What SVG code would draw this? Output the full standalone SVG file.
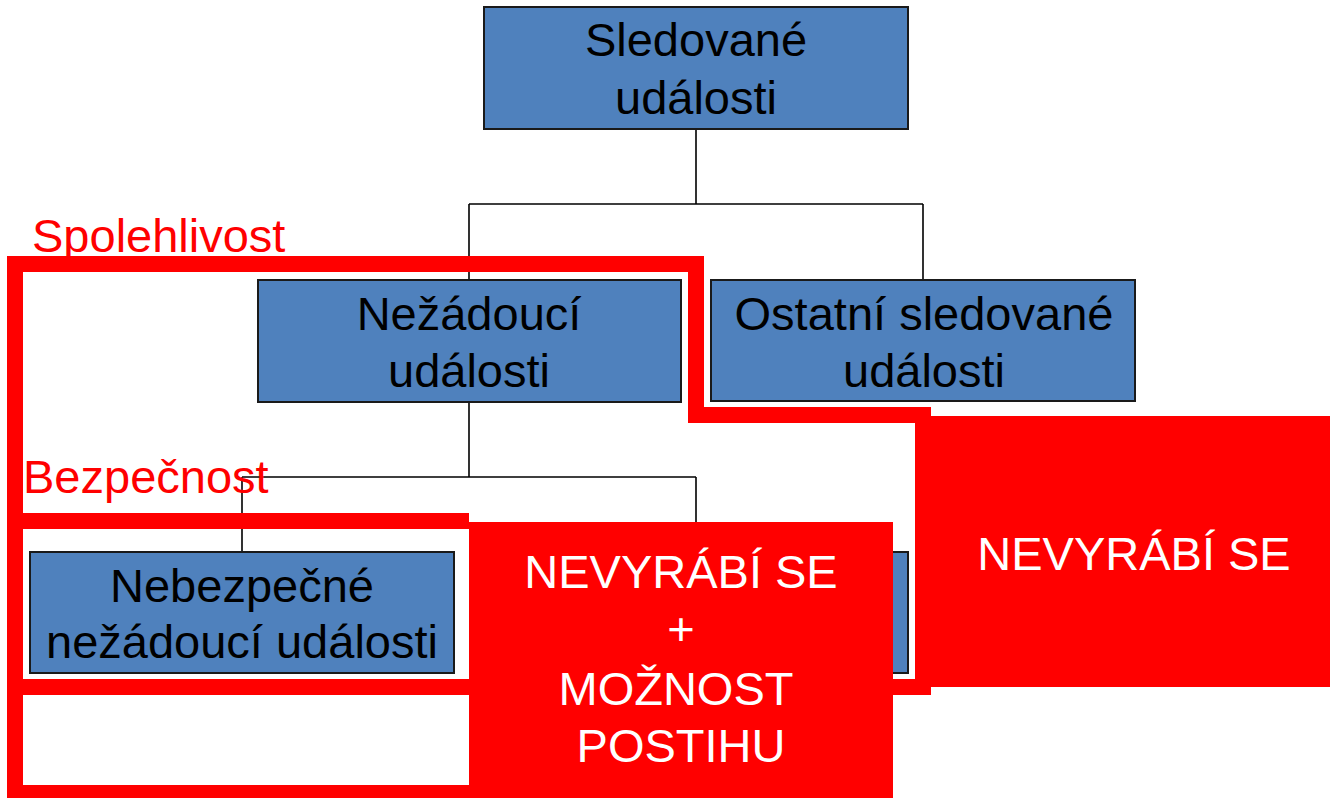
<svg xmlns="http://www.w3.org/2000/svg" width="1330" height="798" viewBox="0 0 1330 798">
  <style>
    .node { fill: #4f81bd; stroke: #1a1a1a; stroke-width: 2; }
    .label { font-family: "Liberation Sans", Arial, sans-serif; font-size: 47px; fill: #000; text-anchor: middle; }
    .wire { stroke: #000; stroke-width: 1.6; fill: none; }
    .frame { stroke: #ff0000; stroke-width: 16; fill: none; stroke-linejoin: miter; }
    .tag { font-family: "Liberation Sans", Arial, sans-serif; font-size: 47px; fill: #ff0000; }
    .block { fill: #ff0000; }
    .note { font-family: "Liberation Sans", Arial, sans-serif; font-size: 47px; fill: #fff; text-anchor: middle; }
  </style>
  <rect width="1330" height="798" fill="#fff"/>

  <!-- tree connectors -->
  <g id="connectors">
    <path class="wire" d="M696 129 V204 M469 204 H923 M469 204 V280 M923 204 V280"/>
    <path class="wire" d="M469 402 V477 M242 477 H696 M242 477 V552 M696 477 V552"/>
  </g>

  <!-- nodes -->
  <g id="node-sledovane">
    <rect class="node" x="484" y="7" width="424" height="122"/>
    <text class="label" x="696" y="56">Sledované</text>
    <text class="label" x="696" y="114">události</text>
  </g>
  <g id="node-nezadouci">
    <rect class="node" x="258" y="280" width="423" height="122"/>
    <text class="label" x="469" y="330">Nežádoucí</text>
    <text class="label" x="469" y="387">události</text>
  </g>
  <g id="node-ostatni">
    <rect class="node" x="711" y="280" width="424" height="121"/>
    <text class="label" x="924" y="330">Ostatní sledované</text>
    <text class="label" x="924" y="387">události</text>
  </g>
  <g id="node-nebezpecne">
    <rect class="node" x="30" y="552" width="424" height="121"/>
    <text class="label" x="242" y="602">Nebezpečné</text>
    <text class="label" x="242" y="658">nežádoucí události</text>
  </g>
  <g id="node-second-child">
    <rect class="node" x="484" y="552" width="424" height="121"/>
  </g>

  <!-- highlighted regions -->
  <g id="region-spolehlivost">
    <path class="frame" d="M15 264 H696 V415 H923 V687 H15 Z"/>
    <text class="tag" x="32" y="252">Spolehlivost</text>
  </g>
  <g id="region-bezpecnost">
    <!-- right edge runs under the centre note -->
    <path class="frame" d="M469 521 H15 V793 H469"/>
    <text class="tag" x="23" y="493">Bezpečnost</text>
  </g>

  <!-- overlay notes -->
  <g id="note-center">
    <rect class="block" x="469" y="522" width="424" height="276"/>
    <text class="note" x="681" y="588">NEVYRÁBÍ SE</text>
    <text class="note" x="681" y="645">+</text>
    <text class="note" x="676" y="705">MOŽNOST</text>
    <text class="note" x="681" y="762">POSTIHU</text>
  </g>
  <g id="note-right">
    <rect class="block" x="915" y="416" width="415" height="271"/>
    <text class="note" x="1134" y="570">NEVYRÁBÍ SE</text>
  </g>
</svg>
